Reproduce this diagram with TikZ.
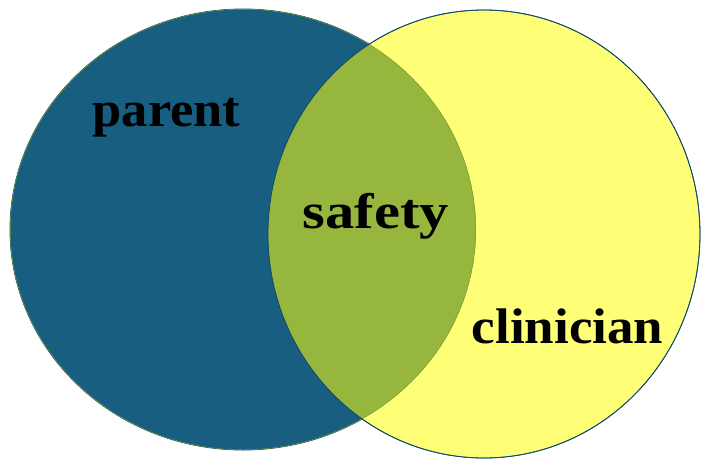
\documentclass[tikz,border=0pt]{standalone}
\usepackage{fontspec}
\setmainfont{Liberation Serif}
\definecolor{parentblue}{HTML}{175E80}
\definecolor{clinyellow}{HTML}{FFFF77}
\definecolor{safegreen}{HTML}{97B63E}
\definecolor{rimblue}{HTML}{0E4A6A}
\tikzset{
  lbl/.style={font=\fontsize{50}{50}\selectfont\bfseries, anchor=base, inner sep=0pt},
  parentset/.style={x radius=233, y radius=220.5},
  clinset/.style={x radius=216, y radius=224}
}

\begin{document}
\begin{tikzpicture}[x=1pt, y=-1pt]   %% pixels of the reference
	\useasboundingbox (0,0) rectangle (701,458);
	\coordinate (pc) at (243,229.5);
	\coordinate (cc) at (484,234);
	\filldraw [parentblue, draw=rimblue, line width=0.8pt] (pc) ellipse [parentset];
	\filldraw [clinyellow, draw=rimblue, line width=0.8pt] (cc) ellipse [clinset];
	\begin{scope}
		\clip (pc) ellipse [parentset];
		\fill [safegreen] (cc) ellipse [clinset];
		\draw [safegreen!85!black, line width=1pt] (pc) ellipse [parentset];
	\end{scope}
	\draw [rimblue, line width=0.8pt] (cc) ellipse [clinset];
	\node [lbl, xscale=1.05] (parent) at (166.5,126) {parent};
	\node [lbl, xscale=1.17] (safety) at (376,228) {safety};
	\node [lbl, xscale=1.06] (clinician) at (567.5,343) {clinician};
\end{tikzpicture}
\end{document}
